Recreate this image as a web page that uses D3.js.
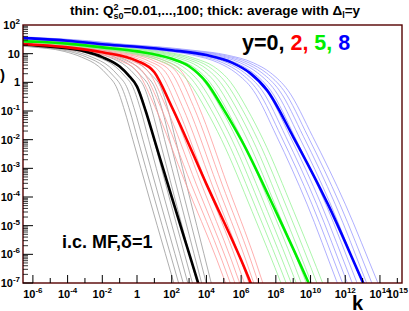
<!DOCTYPE html>
<html lang="en">
<head>
<meta charset="utf-8">
<script src="https://d3js.org/d3.v7.min.js"></script>
<style>
  body { margin: 0; background: #fff; }
  text { font-family: "Liberation Sans", Arial, sans-serif; font-weight: bold; }
</style>
</head>
<body>
<div id="chart"></div>
<script>
// log10(phi) levels and the log10(k) where each curve reaches them
const levelsY0 = [1.40, 1.32, 1.24, 1.08, 0.88, 0.55, 0.25, -0.15, -1.0, -2.0, -4.0, -5.97, -9.9];
const thickY0 = [-9.5, -6.6, -5, -3, -2, -1, -0.5, 0, 0.5, 1, 2, 3, 5];
const thinY0 = [
  [-10.7, -7.8, -6.2, -4.2, -3.2, -2.2, -1.7, -1.2, -0.71, -0.24, 0.69, 1.63, 3.51],
  [-10.4, -7.5, -5.9, -3.9, -2.9, -1.9, -1.4, -0.9, -0.41, 0.05, 0.98, 1.91, 3.77],
  [-10.1, -7.2, -5.6, -3.6, -2.6, -1.6, -1.1, -0.6, -0.12, 0.34, 1.26, 2.18, 4.02],
  [-9.75, -6.85, -5.25, -3.25, -2.25, -1.25, -0.75, -0.25, 0.23, 0.67, 1.56, 2.46, 4.24],
  [-9.45, -6.55, -4.95, -2.95, -1.95, -0.95, -0.45, 0.05, 0.53, 0.97, 1.85, 2.73, 4.5],
  [-9.1, -6.2, -4.6, -2.6, -1.6, -0.6, -0.1, 0.4, 0.87, 1.3, 2.16, 3.01, 4.73],
  [-8.8, -5.9, -4.3, -2.3, -1.3, -0.3, 0.2, 0.7, 1.17, 1.59, 2.44, 3.28, 4.97],
  [-8.5, -5.6, -4, -2, -1, 0, 0.5, 1, 1.47, 1.88, 2.72, 3.55, 5.23],
  [-8.15, -5.25, -3.65, -1.65, -0.65, 0.35, 0.85, 1.35, 1.81, 2.22, 3.03, 3.85, 5.48]
];

const levelsY2 = [1.48, 1.34, 1.22, 1.05, 0.75, 0.35, -0.85, -3.55, -6.2, -9.2];
const thickY2 = [-9.5, -6.6, -4, -2, 0, 1, 2, 4, 6, 8];
const thinY2 = [
  [-10.45, -7.55, -4.95, -2.95, -0.95, 0.05, 1.03, 2.82, 4.61, 6.38],
  [-10.13, -7.23, -4.63, -2.63, -0.63, 0.37, 1.35, 3.12, 4.89, 6.63],
  [-9.81, -6.91, -4.31, -2.31, -0.31, 0.69, 1.67, 3.41, 5.16, 6.89],
  [-9.49, -6.59, -3.99, -1.99, 0.01, 1.01, 1.98, 3.71, 5.44, 7.14],
  [-9.17, -6.27, -3.67, -1.67, 0.33, 1.33, 2.3, 4.01, 5.72, 7.39],
  [-8.85, -5.95, -3.35, -1.35, 0.65, 1.65, 2.62, 4.31, 5.99, 7.64],
  [-8.53, -5.63, -3.03, -1.03, 0.97, 1.97, 2.94, 4.6, 6.27, 7.9],
  [-8.21, -5.31, -2.71, -0.71, 1.29, 2.29, 3.26, 4.9, 6.55, 8.15],
  [-7.9, -5, -2.4, -0.4, 1.6, 2.6, 3.56, 5.19, 6.81, 8.39]
];

const levelsY5 = [1.54, 1.44, 1.35, 1.22, 1.08, 0.82, 0.56, 0.0, -0.95, -2.0, -4.5, -7.15, -10];
const thickY5 = [-9.5, -6.6, -4, -2, 0, 2, 3, 4, 5, 6, 8, 10, 12];
const thinY5 = [
  [-10.5, -7.6, -5, -3, -1, 1, 2, 3, 3.97, 4.87, 6.63, 8.39, 10.12],
  [-10.2, -7.3, -4.7, -2.7, -0.7, 1.3, 2.3, 3.3, 4.27, 5.17, 6.93, 8.69, 10.42],
  [-9.9, -7, -4.4, -2.4, -0.4, 1.6, 2.6, 3.6, 4.57, 5.47, 7.23, 8.98, 10.7],
  [-9.6, -6.7, -4.1, -2.1, -0.1, 1.9, 2.9, 3.9, 4.87, 5.76, 7.52, 9.27, 10.99],
  [-9.3, -6.4, -3.8, -1.8, 0.2, 2.2, 3.2, 4.2, 5.17, 6.06, 7.82, 9.56, 11.27],
  [-9, -6.1, -3.5, -1.5, 0.5, 2.5, 3.5, 4.5, 5.47, 6.36, 8.11, 9.85, 11.56],
  [-8.7, -5.8, -3.2, -1.2, 0.8, 2.8, 3.8, 4.8, 5.77, 6.66, 8.4, 10.14, 11.84],
  [-8.4, -5.5, -2.9, -0.9, 1.1, 3.1, 4.1, 5.1, 6.07, 6.96, 8.72, 10.46, 12.17],
  [-8.1, -5.2, -2.6, -0.6, 1.4, 3.4, 4.4, 5.4, 6.37, 7.27, 9.03, 10.79, 12.52]
];

const levelsY8 = [1.64, 1.55, 1.45, 1.33, 1.24, 1.12, 0.95, 0.68, 0.33, -0.28, -1.9, -4.25, -6.95, -10.3];
const thickY8 = [-9.5, -6.6, -4, -2, 0, 2, 4, 5.5, 6.5, 7.5, 9, 11, 13, 15.5];
const thinY8 = [
  [-10.3, -7.4, -4.8, -2.8, -0.8, 1.2, 3.2, 4.7, 5.7, 6.7, 8.06, 9.8, 11.51, 13.64],
  [-10.05, -7.15, -4.55, -2.55, -0.55, 1.45, 3.45, 4.95, 5.95, 6.95, 8.32, 10.08, 11.81, 13.96],
  [-9.8, -6.9, -4.3, -2.3, -0.3, 1.7, 3.7, 5.2, 6.2, 7.2, 8.58, 10.35, 12.09, 14.26],
  [-9.55, -6.65, -4.05, -2.05, -0.05, 1.95, 3.95, 5.45, 6.45, 7.45, 8.83, 10.61, 12.37, 14.55],
  [-9.3, -6.4, -3.8, -1.8, 0.2, 2.2, 4.2, 5.7, 6.7, 7.7, 9.09, 10.88, 12.65, 14.85],
  [-9.05, -6.15, -3.55, -1.55, 0.45, 2.45, 4.45, 5.95, 6.95, 7.95, 9.34, 11.15, 12.93, 15.14],
  [-8.8, -5.9, -3.3, -1.3, 0.7, 2.7, 4.7, 6.2, 7.2, 8.2, 9.6, 11.42, 13.2, 15.44],
  [-8.55, -5.65, -3.05, -1.05, 0.95, 2.95, 4.95, 6.45, 7.45, 8.45, 9.86, 11.69, 13.5, 15.77],
  [-8.3, -5.4, -2.8, -0.8, 1.2, 3.2, 5.2, 6.7, 7.7, 8.7, 10.13, 12.0, 13.85, 16.17]
];

const xTickExp = [-6, -4, -2, 0, 2, 4, 6, 8, 10, 12, 14, 15];
const yTickExp = [-7, -6, -5, -4, -3, -2, -1, 0, 1, 2];

const groups = [
  {levels: levelsY0, thick: thickY0, thin: thinY0, color: "#000", light: "#999999"},
  {levels: levelsY2, thick: thickY2, thin: thinY2, color: "#ff0000", light: "#ff9a9a"},
  {levels: levelsY5, thick: thickY5, thin: thinY5, color: "#00ee00", light: "#95f295"},
  {levels: levelsY8, thick: thickY8, thin: thinY8, color: "#0000ff", light: "#9a9aff"}
];

const W = 409, H = 311;
const pLeft = 23, pRight = 402, pTop = 25, pBottom = 283;

const svg = d3.select("#chart").append("svg")
  .attr("width", W).attr("height", H);

const x = d3.scaleLinear().domain([-6.57, 15.27]).range([pLeft, pRight]);
const y = d3.scaleLinear().domain([-7, 2]).range([pBottom, pTop]);

svg.append("clipPath").attr("id", "clip")
  .append("rect").attr("x", pLeft).attr("y", pTop)
  .attr("width", pRight - pLeft).attr("height", pBottom - pTop);

const line = d3.line()
  .x(d => x(d[0])).y(d => y(d[1]))
  .curve(d3.curveMonotoneX);

const plot = svg.append("g").attr("clip-path", "url(#clip)");

groups.forEach(g => {
  g.thin.forEach(ks => {
    plot.append("path")
      .datum(ks.map((k, i) => [k, g.levels[i]]))
      .attr("fill", "none")
      .attr("stroke", g.light)
      .attr("stroke-width", 0.8)
      .attr("d", line);
  });
});
groups.forEach(g => {
  plot.append("path")
    .datum(g.thick.map((k, i) => [k, g.levels[i]]))
    .attr("fill", "none")
    .attr("stroke", g.color)
    .attr("stroke-width", 2.6)
    .attr("d", line);
});

// frame
svg.append("rect")
  .attr("x", pLeft).attr("y", pTop)
  .attr("width", pRight - pLeft).attr("height", pBottom - pTop)
  .attr("fill", "none").attr("stroke", "#500").attr("stroke-width", 1.4);

// y ticks
const yt = svg.append("g");
d3.range(-7, 2).forEach(e => {
  yt.append("line").attr("x1", pLeft).attr("x2", pLeft + 10)
    .attr("y1", y(e)).attr("y2", y(e)).attr("stroke", "#000");
  for (let m = 2; m < 10; m++) {
    const v = e + Math.log10(m);
    yt.append("line").attr("x1", pLeft).attr("x2", pLeft + 5)
      .attr("y1", y(v)).attr("y2", y(v)).attr("stroke", "#000").attr("stroke-width", 0.8);
  }
});
yTickExp.forEach(e => {
  const t = yt.append("text").attr("x", 20).attr("y", y(e) + 4)
    .attr("text-anchor", "end").attr("font-size", 11);
  if (e === 0) t.text("1");
  else if (e === 1) t.text("10");
  else {
    t.append("tspan").text("10");
    t.append("tspan").attr("dy", -5).attr("font-size", 8).text(e);
  }
});

// x ticks
const xt = svg.append("g");
d3.range(-6, 16).forEach(e => {
  const len = e % 2 === 0 ? 8 : 5;
  xt.append("line").attr("x1", x(e)).attr("x2", x(e))
    .attr("y1", pBottom).attr("y2", pBottom - len).attr("stroke", "#000");
});
xTickExp.forEach(e => {
  const t = xt.append("text").attr("x", x(e)).attr("y", 298)
    .attr("text-anchor", "middle").attr("font-size", 11);
  if (e === 0) t.text("1");
  else {
    t.append("tspan").text("10");
    t.append("tspan").attr("dy", -5).attr("font-size", 8).text(e);
  }
});

// axis titles
svg.append("text").attr("x", 352).attr("y", 310).attr("font-size", 20).text("k");
svg.append("text").attr("x", 5).attr("y", 80).attr("text-anchor", "end")
  .attr("font-size", 15).text("φ(k)");

// title
const title = svg.append("text").attr("x", 215).attr("y", 15)
  .attr("text-anchor", "middle").attr("font-size", 13.5);
title.append("tspan").text("thin: Q");
title.append("tspan").attr("dy", -5).attr("font-size", 9).text("2");
title.append("tspan").attr("dx", -5).attr("dy", 9).attr("font-size", 9).text("s0");
title.append("tspan").attr("dy", -4).text("=0.01,...,100; thick: average with Δ");
title.append("tspan").attr("dy", 3).attr("font-size", 9).text("l");
title.append("tspan").attr("dy", -3).text("=y");

// legend
const leg = svg.append("text").attr("x", 242).attr("y", 50).attr("font-size", 21.5);
leg.append("tspan").attr("fill", "#000").text("y=0, ");
leg.append("tspan").attr("fill", "#ff0000").text("2, ");
leg.append("tspan").attr("fill", "#00ee00").text("5, ");
leg.append("tspan").attr("fill", "#0000ff").text("8");

svg.append("text").attr("x", 62).attr("y", 248).attr("font-size", 18).text("i.c. MF,δ=1");
</script>
</body>
</html>
